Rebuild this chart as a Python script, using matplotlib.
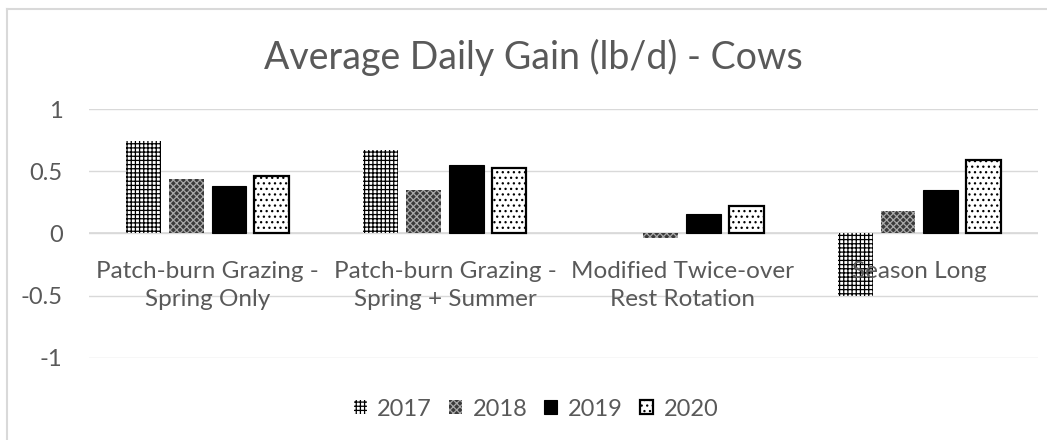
import matplotlib
matplotlib.use("Agg")
import matplotlib.pyplot as plt
import numpy as np
from matplotlib.lines import Line2D

categories = [
    "Patch-burn Grazing -\nSpring Only",
    "Patch-burn Grazing -\nSpring + Summer",
    "Modified Twice-over\nRest Rotation",
    "Season Long",
]
years = ["2017", "2018", "2019", "2020"]
adg_2017 = [0.74, 0.67, 0.0, -0.50]
adg_2018 = [0.44, 0.35, -0.04, 0.18]
adg_2019 = [0.38, 0.55, 0.16, 0.35]
adg_2020 = [0.46, 0.53, 0.22, 0.59]
y_ticks = [-1, -0.5, 0, 0.5, 1]
y_tick_labels = ["-1", "-0.5", "0", "0.5", "1"]

TEXT = "#595959"
GRID = "#d9d9d9"

plt.rcParams["font.family"] = ["Lato", "DejaVu Sans"]
plt.rcParams["hatch.linewidth"] = 0.9

# face, hatch/edge colour, hatch, edge width
styles = [
    ("white", "black", "++++", 0.0),
    ("#3a3a3a", "#a8a8a8", "xxxxx", 0.0),
    ("black", "black", None, 0.8),
    ("white", "black", "...", 1.6),
]

fig = plt.figure(figsize=(10.47, 4.40), dpi=100)
ax = fig.add_axes([89 / 1047, 1 - 358 / 440, (1038 - 89) / 1047, (358 - 109) / 440])

x = np.arange(len(categories))
width = 0.146
step = 0.18
series = [adg_2017, adg_2018, adg_2019, adg_2020]
for k, (vals, yr) in enumerate(zip(series, years)):
    face, ec, hatch, lw = styles[k]
    ax.bar(x + (k - 1.5) * step, vals, width, color=face, edgecolor=ec,
           hatch=hatch, linewidth=lw, label=yr, zorder=3)

ax.set_xlim(-0.5, len(categories) - 0.5)
ax.set_ylim(-1, 1)
ax.set_yticks(y_ticks)
ax.set_yticklabels(y_tick_labels)
ax.set_xticks([])
ax.tick_params(axis="y", length=0, pad=19, labelsize=17, labelcolor=TEXT)
ax.grid(axis="y", color=GRID, linewidth=1.0, zorder=0)
ax.axhline(0, color=GRID, linewidth=1.2, zorder=1)
for s in ax.spines.values():
    s.set_visible(False)

for i, lab in enumerate(categories):
    ax.annotate(lab, xy=(i, 0), xytext=(0, -19.5), textcoords="offset points",
                ha="center", va="top", fontsize=17.5, color=TEXT,
                linespacing=1.45, zorder=5)

fig.text(533 / 1047, 1 - 57 / 440, "Average Daily Gain (lb/d) - Cows",
         ha="center", va="center", fontsize=27, color=TEXT)

fig.legend(loc="center", bbox_to_anchor=(536 / 1047, 1 - 409 / 440), ncol=4,
           frameon=False, fontsize=17, labelcolor=TEXT, handlelength=0.55,
           handleheight=0.55, handletextpad=0.45, columnspacing=0.72)

# chart area border (left and top edges visible)
fig.add_artist(Line2D([7 / 1047, 7 / 1047], [0, 1 - 9 / 440], color=GRID, lw=1.5))
fig.add_artist(Line2D([7 / 1047, 1], [1 - 9 / 440, 1 - 9 / 440], color=GRID, lw=1.5))

fig.savefig("out.png", dpi=100)
